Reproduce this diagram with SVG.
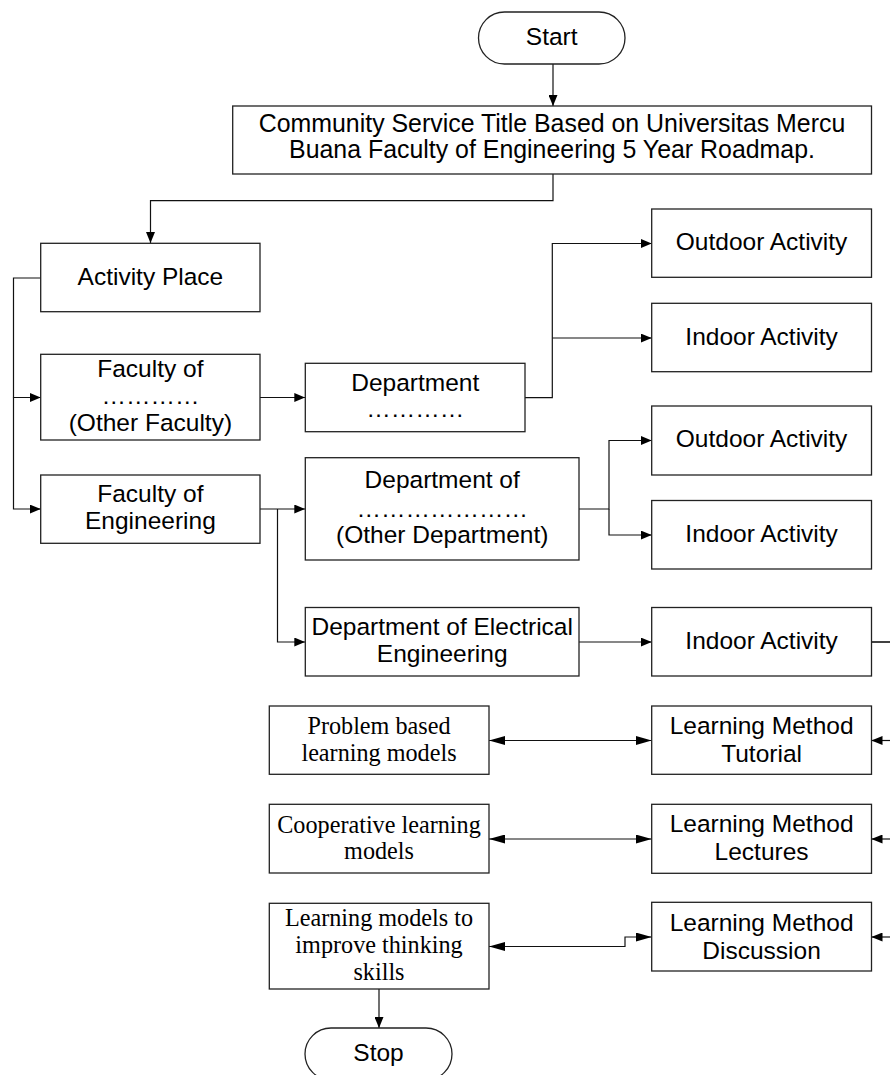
<svg xmlns="http://www.w3.org/2000/svg" width="890" height="1075" viewBox="0 0 890 1075">
<style>
.box{fill:#fff;stroke:#222;stroke-width:1.3}
.t{font-family:"Liberation Sans",Arial,sans-serif;font-size:24.5px;fill:#000;text-anchor:middle}
.tt{font-size:24.9px}
.s{font-family:"Liberation Serif","Times New Roman",serif;font-size:24.2px;fill:#000;text-anchor:middle}
.c{fill:none;stroke:#111;stroke-width:1.2}
.ca{fill:none;stroke:#111;stroke-width:1.2;marker-end:url(#a)}
.cd{fill:none;stroke:#111;stroke-width:1.2;marker-start:url(#b2);marker-end:url(#b)}
</style>
<defs>
<marker id="a" markerWidth="11" markerHeight="9" refX="11" refY="4.5" orient="auto" markerUnits="userSpaceOnUse"><path d="M0,0 L11,4.5 L0,9 z" fill="#000"/></marker>
<marker id="b" markerWidth="16" markerHeight="9" refX="16" refY="4.5" orient="auto" markerUnits="userSpaceOnUse"><path d="M0,0 L16,4.5 L0,9 z" fill="#000"/></marker>
<marker id="b2" markerWidth="16" markerHeight="9" refX="16" refY="4.5" orient="auto-start-reverse" markerUnits="userSpaceOnUse"><path d="M0,0 L16,4.5 L0,9 z" fill="#000"/></marker>
</defs>
<rect width="890" height="1075" fill="#fff"/>
<g id="connectors">
<path class="ca" d="M553,64 V106"/>
<path class="ca" d="M553,174 V200.7 H150.5 V243"/>
<path class="ca" d="M40.7,278 H13.5 V397.5 H40.7"/>
<path class="ca" d="M13.5,397.5 V509 H40.7"/>
<path class="ca" d="M260,397.5 H305.3"/>
<path class="ca" d="M525,397.7 H552.3 V243.5 H651.7"/>
<path class="ca" d="M552.3,338 H651.7"/>
<path class="ca" d="M260,509 H305.3"/>
<path class="ca" d="M277.5,509 V642 H305.3"/>
<path class="ca" d="M579,509 H609 V440.5 H651.7"/>
<path class="ca" d="M609,509 V535 H651.7"/>
<path class="ca" d="M579,642 H651.7"/>
<path class="c" style="stroke-width:1.6" d="M871.5,642 H890"/>
<path class="ca" d="M890,740.5 H871.5"/>
<path class="ca" d="M890,839 H871.5"/>
<path class="ca" d="M890,937 H871.5"/>
<path class="cd" d="M489,740.5 H651.7"/>
<path class="cd" d="M489,839 H651.7"/>
<path class="cd" d="M489,946.5 H625 V937 H651.7"/>
<path class="ca" d="M379,989 V1028"/>
</g>
<g id="start"><rect class="box" x="478.5" y="12" width="146.5" height="52" rx="26"/><text class="t" x="551.7" y="45">Start</text></g>
<g id="title"><rect class="box" x="232.7" y="106" width="638.8" height="68"/><text class="t tt" x="552" y="131.7">Community Service Title Based on Universitas Mercu</text><text class="t tt" x="552" y="157.5">Buana Faculty of Engineering 5 Year Roadmap.</text></g>
<g id="activity-place"><rect class="box" x="40.7" y="243.3" width="219.3" height="68.4"/><text class="t" x="150.4" y="285">Activity Place</text></g>
<g id="faculty-other"><rect class="box" x="40.7" y="354.3" width="219.3" height="85.7"/><text class="t" x="150.4" y="376.7">Faculty of</text><text class="t" x="150.4" y="404">…………</text><text class="t" x="150.4" y="431">(Other Faculty)</text></g>
<g id="department"><rect class="box" x="305.3" y="363.3" width="219.7" height="68.4"/><text class="t" x="415.2" y="390.7">Department</text><text class="t" x="415.2" y="416.7">…………</text></g>
<g id="outdoor-1"><rect class="box" x="651.7" y="209" width="219.8" height="68.3"/><text class="t" x="761.6" y="250">Outdoor Activity</text></g>
<g id="indoor-1"><rect class="box" x="651.7" y="303.3" width="219.8" height="68.4"/><text class="t" x="761.6" y="345">Indoor Activity</text></g>
<g id="faculty-engineering"><rect class="box" x="40.7" y="475" width="219.3" height="68.3"/><text class="t" x="150.4" y="501.7">Faculty of</text><text class="t" x="150.4" y="529.3">Engineering</text></g>
<g id="department-other"><rect class="box" x="305.3" y="457.7" width="273.7" height="102.3"/><text class="t" x="442.2" y="488.3">Department of</text><text class="t" x="442.2" y="516.7">…………………</text><text class="t" x="442.2" y="542.7">(Other Department)</text></g>
<g id="outdoor-2"><rect class="box" x="651.7" y="406" width="219.8" height="69"/><text class="t" x="761.6" y="447.3">Outdoor Activity</text></g>
<g id="indoor-2"><rect class="box" x="651.7" y="500.5" width="219.8" height="68.5"/><text class="t" x="761.6" y="541.7">Indoor Activity</text></g>
<g id="department-electrical"><rect class="box" x="305.3" y="607.5" width="273.7" height="68.5"/><text class="t" x="442.2" y="635">Department of Electrical</text><text class="t" x="442.2" y="662">Engineering</text></g>
<g id="indoor-3"><rect class="box" x="651.7" y="607.5" width="219.8" height="68.5"/><text class="t" x="761.6" y="649">Indoor Activity</text></g>
<g id="lm-tutorial"><rect class="box" x="651.7" y="706" width="219.8" height="68.3"/><text class="t" x="761.6" y="734">Learning Method</text><text class="t" x="761.6" y="762">Tutorial</text></g>
<g id="lm-lectures"><rect class="box" x="651.7" y="804.3" width="219.8" height="69"/><text class="t" x="761.6" y="832.3">Learning Method</text><text class="t" x="761.6" y="860">Lectures</text></g>
<g id="lm-discussion"><rect class="box" x="651.7" y="902.3" width="219.8" height="68.7"/><text class="t" x="761.6" y="930.5">Learning Method</text><text class="t" x="761.6" y="958.5">Discussion</text></g>
<g id="problem-based"><rect class="box" x="269.3" y="706" width="219.7" height="68.3"/><text class="s" x="379" y="734">Problem based</text><text class="s" x="379" y="760.5">learning models</text></g>
<g id="cooperative"><rect class="box" x="269.3" y="804.3" width="219.7" height="68.7"/><text class="s" x="379" y="832.7">Cooperative learning</text><text class="s" x="379" y="859">models</text></g>
<g id="thinking-skills"><rect class="box" x="269.3" y="903.3" width="219.7" height="85.7"/><text class="s" x="379" y="925.7">Learning models to</text><text class="s" x="379" y="952.7">improve thinking</text><text class="s" x="379" y="980">skills</text></g>
<g id="stop"><rect class="box" x="305" y="1028" width="147" height="52" rx="26"/><text class="t" x="378.5" y="1060.5">Stop</text></g>
</svg>
